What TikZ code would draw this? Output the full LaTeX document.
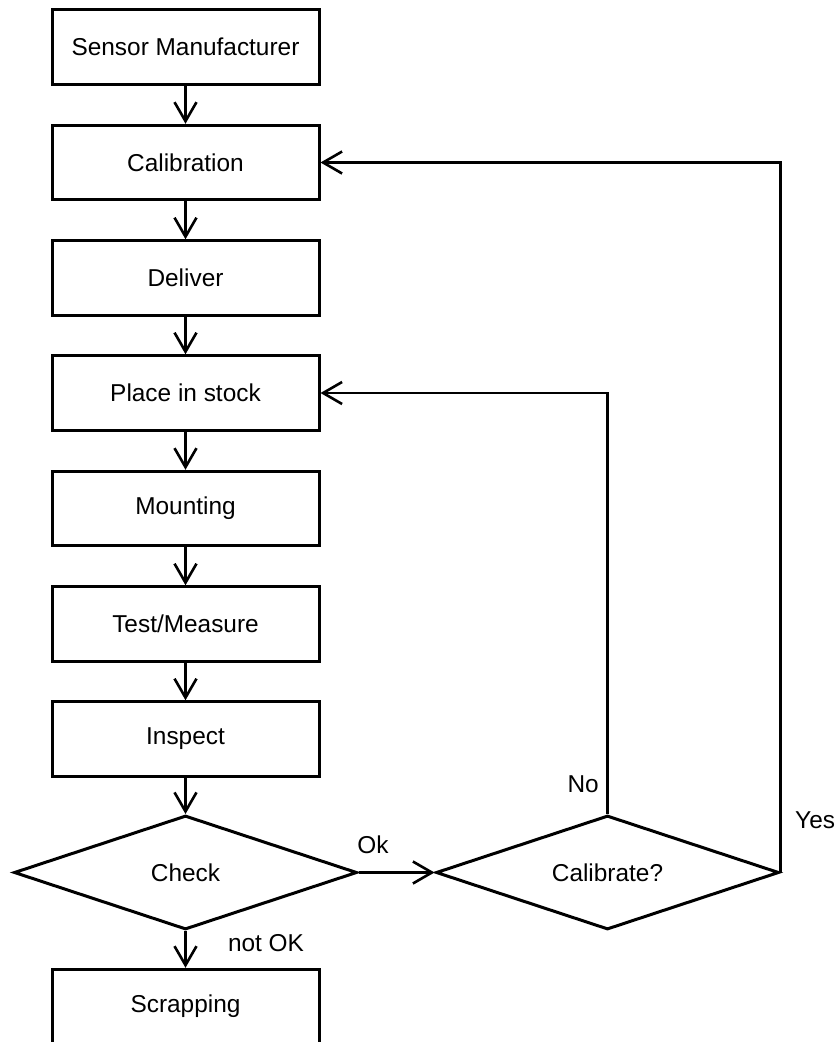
\documentclass[tikz,border=0pt]{standalone}
\usepackage{fontspec}
\setmainfont{Liberation Sans}
\usetikzlibrary{shapes.geometric,arrows.meta}
\begin{document}
\begin{tikzpicture}[x=1pt,y=-1pt,
  every node/.style={font=\fontsize{24.4}{29}\selectfont},
  proc/.style={draw, line width=3pt, minimum width=267pt, minimum height=74.5pt, inner sep=0pt},
  decision/.style={draw, diamond, aspect=3, line width=3pt, minimum width=343pt, minimum height=114pt, inner sep=0pt},
  conn/.style={line width=2.6pt, -{Straight Barb[length=19pt,width=22pt]}},
  lbl/.style={inner sep=0pt}]
\useasboundingbox (0,0) rectangle (837,1042);
\node[proc] (man) at (185.5,47) {Sensor Manufacturer};
\node[proc] (cal) at (185.5,162.5) {Calibration};
\node[proc] (del) at (185.5,278) {Deliver};
\node[proc] (stock) at (185.5,393) {Place in stock};
\node[proc] (mount) at (185.5,508.5) {Mounting};
\node[proc] (test) at (185.5,624) {Test/Measure};
\node[proc] (insp) at (185.5,739) {Inspect};
\node[decision] (check) at (185.5,872.5) {Check};
\node[decision] (calq) at (607.5,872.5) {Calibrate?};
\node[proc] (scrap) at (185.5,1006.5) {Scrapping};
\draw[conn] (man) -- (cal);
\draw[conn] (cal) -- (del);
\draw[conn] (del) -- (stock);
\draw[conn] (stock) -- (mount);
\draw[conn] (mount) -- (test);
\draw[conn] (test) -- (insp);
\draw[conn] (insp) -- (check);
\draw[conn] (check) -- (scrap);
\draw[conn] (check.east) -- (calq.west);
\draw[conn] (calq.north) |- (stock.east);
\draw[conn] (calq.east) |- (cal.east);
\node[lbl] (lok) at (373,845) {Ok};
\node[lbl] (lnotok) at (266,943) {not OK};
\node[lbl, anchor=east] (lno) at (599,784) {No};
\node[lbl, anchor=west] (lyes) at (795,820) {Yes};
\end{tikzpicture}
\end{document}
